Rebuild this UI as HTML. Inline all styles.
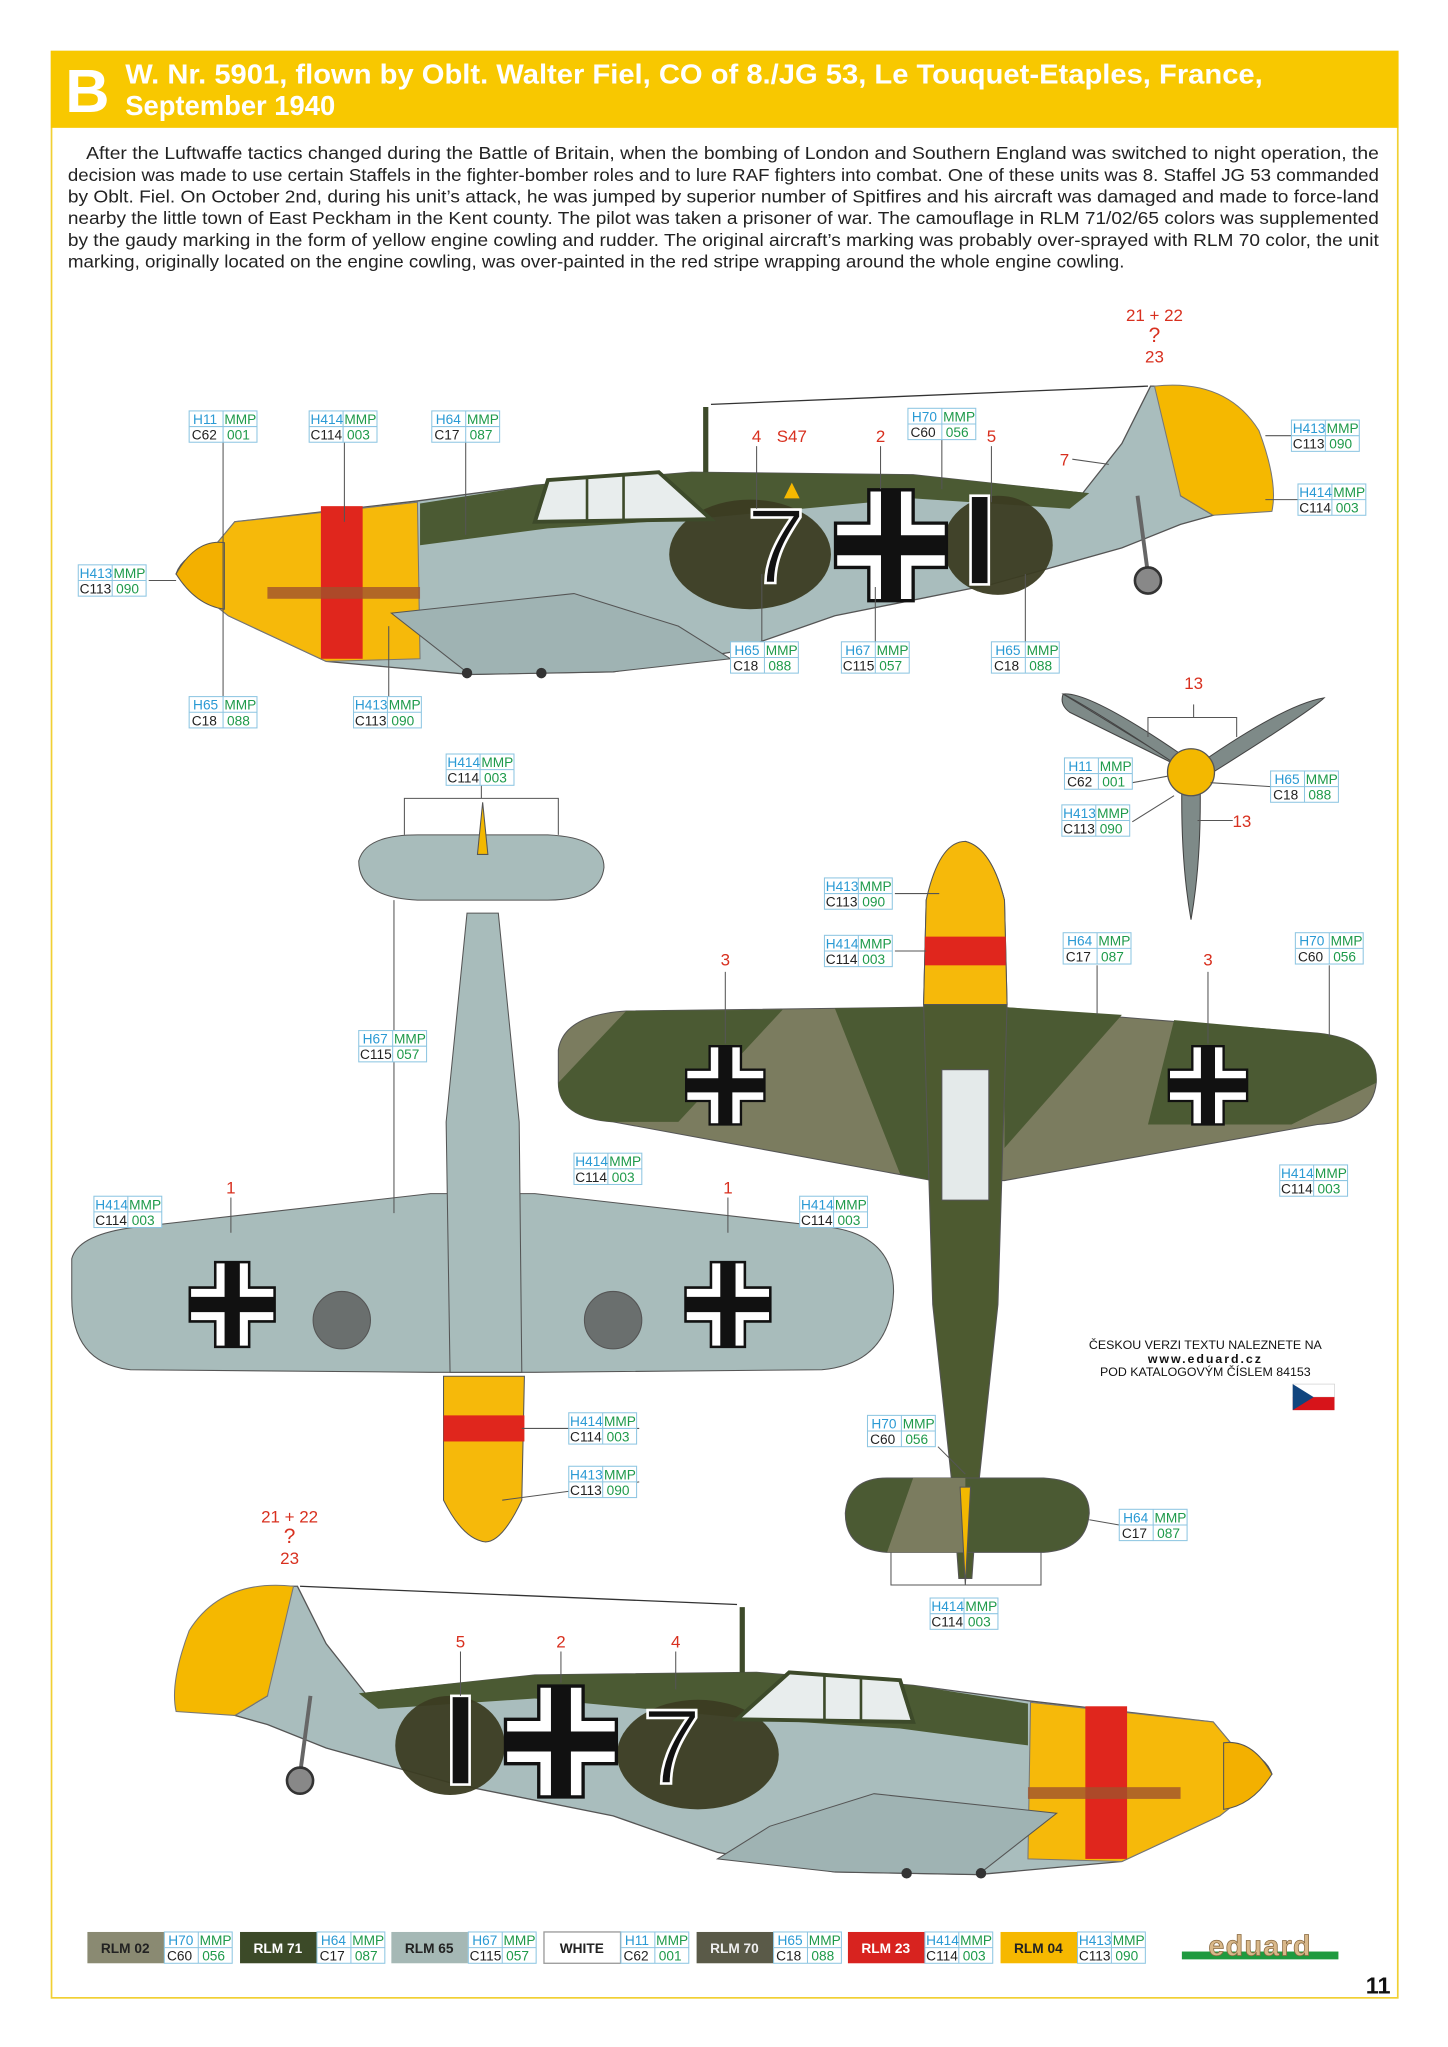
<!DOCTYPE html>
<html><head><meta charset="utf-8"><style>
html,body{margin:0;padding:0;background:#fff;}
svg{display:block;font-family:"Liberation Sans",sans-serif;}
.lb rect{fill:#fff;stroke:#8ec6e2;stroke-width:.8}
.lb line{stroke:#8ec6e2;stroke-width:.8}
.lb text{font-size:10.5px}
.h{fill:#2a9ad4}.m{fill:#1e9a4a}.c{fill:#222}
.rn{fill:#d8301f;font-size:13px;text-anchor:middle}
.ld{stroke:#555;stroke-width:.8;fill:none}
</style></head><body>
<svg width="1448" height="2047" viewBox="0 0 1448 2047" xmlns="http://www.w3.org/2000/svg">
<defs>
<g id="bk">
 <rect x="-50" y="-50" width="100" height="100" fill="none"/>
 <path d="M-20,-50h40v30h30v40h-30v30h-40v-30h-30v-40h30z" fill="#fff" stroke="#111" stroke-width="3"/>
 <path d="M-9,-50h18v41h41v18h-41v41h-18v-41h-41v-18h41z" fill="#111"/>
</g>
<g id="side">
 <path d="M135,440 Q140,425 165,418 L180,400 L320,384 L410,372 L530,362 L700,364 L830,378 L860,340 L882,296 L900,296 L905,380 L930,395 L905,402 L860,420 L760,448 L640,472 L560,500 L470,515 L360,517 L250,507 L175,472 L160,460 Z" fill="#a9bdbd" stroke="#555" stroke-width="1"/>
 <path d="M322,386 L410,372 L530,362 L700,364 L835,378 L820,390 L700,382 L530,398 L420,405 L322,418 Z" fill="#4b5a33"/>
 <path d="M885,296 Q940,290 965,330 Q980,370 975,392 L930,395 L905,380 Z" fill="#f5b800" stroke="#777" stroke-width=".8"/>
 <path d="M165,418 L180,400 L320,385 L322,505 L250,507 L175,472 L160,460 Z" fill="#f6b90a" stroke="#777" stroke-width=".8"/>
 <path d="M135,440 Q150,413 172,416 L172,467 Q150,464 135,440 Z" fill="#f3b000" stroke="#555" stroke-width=".8"/>
 <rect x="246" y="388" width="32" height="117" fill="#e0261d"/>
 <rect x="205" y="450" width="117" height="9" fill="#a0522d" opacity=".8"/>
 <path d="M300,470 L440,455 L520,480 L560,505 L470,515 L360,517 Z" fill="#9fb3b3" stroke="#555" stroke-width=".8"/>
 <ellipse cx="575" cy="425" rx="62" ry="42" fill="#3b3c22" opacity=".95"/>
 <ellipse cx="765" cy="418" rx="42" ry="38" fill="#3b3c22" opacity=".95"/>
 <path d="M410,400 L420,368 L505,362 L545,398 Z" fill="#e8eded" stroke="#3d4a2a" stroke-width="3"/>
 <line x1="450" y1="365" x2="450" y2="400" stroke="#3d4a2a" stroke-width="2"/>
 <line x1="478" y1="363" x2="478" y2="400" stroke="#3d4a2a" stroke-width="2"/>
 <line x1="541" y1="312" x2="541" y2="362" stroke="#3d4a2a" stroke-width="4"/>
 <line x1="545" y1="310" x2="880" y2="296" stroke="#333" stroke-width="1"/>
 <line x1="872" y1="380" x2="880" y2="440" stroke="#666" stroke-width="3"/>
 <circle cx="880" cy="445" r="10" fill="#888" stroke="#333" stroke-width="2"/>
 <circle cx="358" cy="516" r="4" fill="#333"/><circle cx="415" cy="516" r="4" fill="#333"/>
</g>
</defs>
<rect width="1448" height="2047" fill="#fff"/>
<g transform="scale(1.3045)">
 <rect x="39.5" y="39.5" width="1032" height="1492" fill="none" stroke="#f1d033" stroke-width="1.3"/>
 <rect x="39" y="39" width="1033" height="59" fill="#f8c800"/>
 <text x="50" y="86" font-size="47" font-weight="bold" fill="#fff">B</text>
 <text x="96" y="64" font-size="21" font-weight="bold" fill="#fff" textLength="872" lengthAdjust="spacingAndGlyphs">W. Nr. 5901, flown by Oblt. Walter Fiel, CO of 8./JG 53, Le Touquet-Etaples, France,</text>
 <text x="96" y="88" font-size="21" font-weight="bold" fill="#fff">September 1940</text>
 <g font-size="13.5" fill="#222" lengthAdjust="spacingAndGlyphs">
  <text x="66" y="122" textLength="991" lengthAdjust="spacingAndGlyphs">After the Luftwaffe tactics changed during the Battle of Britain, when the bombing of London and Southern England was switched to night operation, the</text>
  <text x="52" y="138.6" textLength="1005" lengthAdjust="spacingAndGlyphs">decision was made to use certain Staffels in the fighter-bomber roles and to lure RAF fighters into combat. One of these units was 8. Staffel JG 53 commanded</text>
  <text x="52" y="155.2" textLength="1005" lengthAdjust="spacingAndGlyphs">by Oblt. Fiel. On October 2nd, during his unit’s attack, he was jumped by superior number of Spitfires and his aircraft was damaged and made to force-land</text>
  <text x="52" y="171.8" textLength="1005" lengthAdjust="spacingAndGlyphs">nearby the little town of East Peckham in the Kent county. The pilot was taken a prisoner of war. The camouflage in RLM 71/02/65 colors was supplemented</text>
  <text x="52" y="188.4" textLength="1005" lengthAdjust="spacingAndGlyphs">by the gaudy marking in the form of yellow engine cowling and rudder. The original aircraft’s marking was probably over-sprayed with RLM 70 color, the unit</text>
  <text x="52" y="205" textLength="810" lengthAdjust="spacingAndGlyphs">marking, originally located on the engine cowling, was over-painted in the red stripe wrapping around the whole engine cowling.</text>
 </g>

 <!-- top side view -->
 <use href="#side"/>
 <text x="595" y="447" font-size="82" text-anchor="middle" fill="#111" stroke="#fff" stroke-width="2">7</text>
 <use href="#bk" transform="translate(683,418) scale(.85)"/>
 <rect x="744" y="380" width="14" height="68" fill="#111" stroke="#fff" stroke-width="2"/>
 <path d="M607,370 L613,382 L601,382 Z" fill="#f5b800"/>

 <!-- bottom side view -->
 <use href="#side" transform="translate(1110,920) scale(-1,1)"/>
 <text x="515" y="1367" font-size="82" text-anchor="middle" fill="#111" stroke="#fff" stroke-width="2">7</text>
 <use href="#bk" transform="translate(430,1335) scale(.85)"/>
 <rect x="346" y="1300" width="14" height="68" fill="#111" stroke="#fff" stroke-width="2"/>

 <!-- propeller -->
 <g fill="#7e8a88" stroke="#444" stroke-width=".8">
  <path d="M913,592 L815,532 Q812,540 820,546 Z"/>
  <path d="M900,585 Q840,545 815,532 Q835,530 905,578 Z"/>
  <path d="M920,585 Q985,540 1015,535 Q1005,545 925,595 Z"/>
  <path d="M906,600 Q905,660 913,705 Q921,660 920,600 Z"/>
 </g>
 <circle cx="913" cy="592" r="18" fill="#f3b800" stroke="#555"/>

 <!-- underside plan view -->
 <g stroke="#555" stroke-width=".8">
  <path d="M55,965 Q60,945 110,940 L330,915 L410,915 L630,940 Q685,945 685,990 Q683,1045 630,1050 L410,1052 L330,1052 L100,1050 Q55,1045 55,995 Z" fill="#a8bcbb"/>
  <path d="M345,1052 L342,860 L358,700 L382,700 L398,860 L400,1052 Z" fill="#a8bcbb"/>
  <path d="M275,660 Q280,640 320,640 L420,640 Q463,642 463,665 Q460,690 420,690 L320,690 Q275,688 275,660 Z" fill="#a8bcbb"/>
  <path d="M340,1055 L402,1055 L400,1150 Q385,1182 372,1182 Q355,1180 340,1150 Z" fill="#f6b90a"/>
  <rect x="340" y="1085" width="62" height="20" fill="#e0261d" stroke="none"/>
  <circle cx="262" cy="1012" r="22" fill="#6a6f6e"/><circle cx="470" cy="1012" r="22" fill="#6a6f6e"/>
  <path d="M370,615 L374,655 L366,655 Z" fill="#f3b800"/>
 </g>
 <use href="#bk" transform="translate(178,1000) scale(.65)"/>
 <use href="#bk" transform="translate(558,1000) scale(.65)"/>

 <!-- top plan view -->
 <g stroke="#555" stroke-width=".8">
  <path d="M428,805 Q432,778 480,775 L715,772 L765,772 L1010,792 Q1057,797 1055,830 Q1052,860 1010,862 L770,905 L715,905 L470,860 Q428,857 428,830 Z" fill="#7b7c5f"/>
  <path d="M480,775 L600,774 L520,860 L470,860 Q428,857 428,830 Z" fill="#4b5a33" stroke="none"/>
  <path d="M640,773 L715,772 L715,905 L690,900 Z" fill="#4b5a33" stroke="none"/>
  <path d="M770,772 L860,778 L770,880 Z" fill="#4b5a33" stroke="none"/>
  <path d="M900,782 L1010,792 Q1057,797 1055,830 L990,862 L880,862 Z" fill="#4b5a33" stroke="none"/>
  <path d="M740,645 Q760,650 770,690 L772,770 L765,1000 L750,1140 L745,1210 L735,1210 L730,1140 L715,1000 L708,770 L710,690 Q720,650 740,645 Z" fill="#4d5a30"/>
  <path d="M710,690 Q720,645 740,645 Q760,650 770,690 L772,770 L708,770 Z" fill="#f6b90a"/>
  <rect x="709" y="718" width="62" height="22" fill="#e0261d" stroke="none"/>
  <rect x="722" y="820" width="36" height="100" fill="#e4eaea"/>
  <path d="M648,1160 Q650,1133 680,1133 L800,1133 Q835,1135 835,1160 Q833,1188 800,1190 L680,1190 Q648,1188 648,1160 Z" fill="#4b5a33"/>
  <path d="M700,1133 L740,1133 L740,1190 L680,1190 Z" fill="#7b7c5f" stroke="none"/>
  <path d="M736,1140 L744,1140 L740,1215 Z" fill="#f3b800"/>
 </g>
 <use href="#bk" transform="translate(556,832) scale(.6)"/>
 <use href="#bk" transform="translate(926,832) scale(.6)"/>

 <!-- leader lines -->
 <g class="ld">
  <line x1="171" y1="339" x2="171" y2="534"/><line x1="264" y1="339" x2="264" y2="400"/><line x1="357" y1="339" x2="357" y2="410"/>
  <line x1="722" y1="337" x2="722" y2="375"/><line x1="298" y1="480" x2="298" y2="534"/>
  <line x1="584" y1="440" x2="584" y2="492"/><line x1="671" y1="450" x2="671" y2="492"/><line x1="786" y1="440" x2="786" y2="492"/>
  <line x1="970" y1="334" x2="990" y2="334"/><line x1="970" y1="383" x2="995" y2="383"/><line x1="114" y1="445" x2="135" y2="445"/>
  <polyline points="310,640 310,612 428,612 428,640"/><line x1="369" y1="602" x2="369" y2="612"/>
  <line x1="302" y1="690" x2="302" y2="930"/>
  <polyline points="880,565 880,550 948,550 948,565"/><line x1="915" y1="540" x2="915" y2="550"/>
  <line x1="868" y1="600" x2="895" y2="595"/><line x1="868" y1="630" x2="900" y2="610"/><line x1="928" y1="600" x2="974" y2="603"/><line x1="918" y1="629" x2="945" y2="629"/>
  <line x1="686" y1="685" x2="720" y2="685"/><line x1="686" y1="729" x2="710" y2="729"/>
  <line x1="841" y1="740" x2="841" y2="778"/><line x1="1019" y1="740" x2="1019" y2="795"/>
  <line x1="556" y1="745" x2="556" y2="800"/><line x1="926" y1="745" x2="926" y2="800"/>
  <line x1="177" y1="918" x2="177" y2="945"/><line x1="558" y1="918" x2="558" y2="945"/>
  <line x1="490" y1="1095" x2="400" y2="1095"/><line x1="490" y1="1136" x2="385" y2="1150"/>
  <line x1="719" y1="1109" x2="740" y2="1130"/><line x1="858" y1="1169" x2="835" y2="1165"/>
  <polyline points="683,1190 683,1215 798,1215 798,1190"/>
  <line x1="353" y1="1266" x2="353" y2="1300"/><line x1="430" y1="1266" x2="430" y2="1290"/><line x1="518" y1="1266" x2="518" y2="1295"/>
  <line x1="580" y1="342" x2="580" y2="390"/><line x1="675" y1="342" x2="675" y2="375"/><line x1="760" y1="342" x2="760" y2="385"/><line x1="822" y1="352" x2="850" y2="356"/>
 </g>

 <!-- red numbers -->
 <g class="rn">
  <text x="885" y="246">21 + 22</text><text x="885" y="262" font-size="16">?</text><text x="885" y="278">23</text>
  <text x="580" y="339">4</text><text x="607" y="339">S47</text><text x="675" y="339">2</text><text x="760" y="339">5</text><text x="816" y="357">7</text>
  <text x="915" y="528">13</text><text x="952" y="634">13</text>
  <text x="556" y="740">3</text><text x="926" y="740">3</text>
  <text x="177" y="915">1</text><text x="558" y="915">1</text>
  <text x="222" y="1167">21 + 22</text><text x="222" y="1183" font-size="16">?</text><text x="222" y="1199">23</text>
  <text x="353" y="1263">5</text><text x="430" y="1263">2</text><text x="518" y="1263">4</text>
 </g>

 <!-- labels -->
 <g class="lb">
  <g transform="translate(145,315)"><rect width="52" height="24"/><line x1="26" y1="0" x2="26" y2="24"/><line x1="0" y1="12" x2="52" y2="12"/><text class="h" x="3" y="10">H11</text><text class="m" x="27" y="10">MMP</text><text class="c" x="2" y="22">C62</text><text class="m" x="29" y="22">001</text></g>
  <g transform="translate(237,315)"><rect width="52" height="24"/><line x1="26" y1="0" x2="26" y2="24"/><line x1="0" y1="12" x2="52" y2="12"/><text class="h" x="1" y="10">H414</text><text class="m" x="27" y="10">MMP</text><text class="c" x="1" y="22">C114</text><text class="m" x="29" y="22">003</text></g>
  <g transform="translate(331,315)"><rect width="52" height="24"/><line x1="26" y1="0" x2="26" y2="24"/><line x1="0" y1="12" x2="52" y2="12"/><text class="h" x="3" y="10">H64</text><text class="m" x="27" y="10">MMP</text><text class="c" x="2" y="22">C17</text><text class="m" x="29" y="22">087</text></g>
  <g transform="translate(696,313)"><rect width="52" height="24"/><line x1="26" y1="0" x2="26" y2="24"/><line x1="0" y1="12" x2="52" y2="12"/><text class="h" x="3" y="10">H70</text><text class="m" x="27" y="10">MMP</text><text class="c" x="2" y="22">C60</text><text class="m" x="29" y="22">056</text></g>
  <g transform="translate(990,322)"><rect width="52" height="24"/><line x1="26" y1="0" x2="26" y2="24"/><line x1="0" y1="12" x2="52" y2="12"/><text class="h" x="1" y="10">H413</text><text class="m" x="27" y="10">MMP</text><text class="c" x="1" y="22">C113</text><text class="m" x="29" y="22">090</text></g>
  <g transform="translate(995,371)"><rect width="52" height="24"/><line x1="26" y1="0" x2="26" y2="24"/><line x1="0" y1="12" x2="52" y2="12"/><text class="h" x="1" y="10">H414</text><text class="m" x="27" y="10">MMP</text><text class="c" x="1" y="22">C114</text><text class="m" x="29" y="22">003</text></g>
  <g transform="translate(60,433)"><rect width="52" height="24"/><line x1="26" y1="0" x2="26" y2="24"/><line x1="0" y1="12" x2="52" y2="12"/><text class="h" x="1" y="10">H413</text><text class="m" x="27" y="10">MMP</text><text class="c" x="1" y="22">C113</text><text class="m" x="29" y="22">090</text></g>
  <g transform="translate(560,492)"><rect width="52" height="24"/><line x1="26" y1="0" x2="26" y2="24"/><line x1="0" y1="12" x2="52" y2="12"/><text class="h" x="3" y="10">H65</text><text class="m" x="27" y="10">MMP</text><text class="c" x="2" y="22">C18</text><text class="m" x="29" y="22">088</text></g>
  <g transform="translate(645,492)"><rect width="52" height="24"/><line x1="26" y1="0" x2="26" y2="24"/><line x1="0" y1="12" x2="52" y2="12"/><text class="h" x="3" y="10">H67</text><text class="m" x="27" y="10">MMP</text><text class="c" x="1" y="22">C115</text><text class="m" x="29" y="22">057</text></g>
  <g transform="translate(760,492)"><rect width="52" height="24"/><line x1="26" y1="0" x2="26" y2="24"/><line x1="0" y1="12" x2="52" y2="12"/><text class="h" x="3" y="10">H65</text><text class="m" x="27" y="10">MMP</text><text class="c" x="2" y="22">C18</text><text class="m" x="29" y="22">088</text></g>
  <g transform="translate(145,534)"><rect width="52" height="24"/><line x1="26" y1="0" x2="26" y2="24"/><line x1="0" y1="12" x2="52" y2="12"/><text class="h" x="3" y="10">H65</text><text class="m" x="27" y="10">MMP</text><text class="c" x="2" y="22">C18</text><text class="m" x="29" y="22">088</text></g>
  <g transform="translate(271,534)"><rect width="52" height="24"/><line x1="26" y1="0" x2="26" y2="24"/><line x1="0" y1="12" x2="52" y2="12"/><text class="h" x="1" y="10">H413</text><text class="m" x="27" y="10">MMP</text><text class="c" x="1" y="22">C113</text><text class="m" x="29" y="22">090</text></g>
  <g transform="translate(342,578)"><rect width="52" height="24"/><line x1="26" y1="0" x2="26" y2="24"/><line x1="0" y1="12" x2="52" y2="12"/><text class="h" x="1" y="10">H414</text><text class="m" x="27" y="10">MMP</text><text class="c" x="1" y="22">C114</text><text class="m" x="29" y="22">003</text></g>
  <g transform="translate(816,581)"><rect width="52" height="24"/><line x1="26" y1="0" x2="26" y2="24"/><line x1="0" y1="12" x2="52" y2="12"/><text class="h" x="3" y="10">H11</text><text class="m" x="27" y="10">MMP</text><text class="c" x="2" y="22">C62</text><text class="m" x="29" y="22">001</text></g>
  <g transform="translate(974,591)"><rect width="52" height="24"/><line x1="26" y1="0" x2="26" y2="24"/><line x1="0" y1="12" x2="52" y2="12"/><text class="h" x="3" y="10">H65</text><text class="m" x="27" y="10">MMP</text><text class="c" x="2" y="22">C18</text><text class="m" x="29" y="22">088</text></g>
  <g transform="translate(814,617)"><rect width="52" height="24"/><line x1="26" y1="0" x2="26" y2="24"/><line x1="0" y1="12" x2="52" y2="12"/><text class="h" x="1" y="10">H413</text><text class="m" x="27" y="10">MMP</text><text class="c" x="1" y="22">C113</text><text class="m" x="29" y="22">090</text></g>
  <g transform="translate(632,673)"><rect width="52" height="24"/><line x1="26" y1="0" x2="26" y2="24"/><line x1="0" y1="12" x2="52" y2="12"/><text class="h" x="1" y="10">H413</text><text class="m" x="27" y="10">MMP</text><text class="c" x="1" y="22">C113</text><text class="m" x="29" y="22">090</text></g>
  <g transform="translate(632,717)"><rect width="52" height="24"/><line x1="26" y1="0" x2="26" y2="24"/><line x1="0" y1="12" x2="52" y2="12"/><text class="h" x="1" y="10">H414</text><text class="m" x="27" y="10">MMP</text><text class="c" x="1" y="22">C114</text><text class="m" x="29" y="22">003</text></g>
  <g transform="translate(815,715)"><rect width="52" height="24"/><line x1="26" y1="0" x2="26" y2="24"/><line x1="0" y1="12" x2="52" y2="12"/><text class="h" x="3" y="10">H64</text><text class="m" x="27" y="10">MMP</text><text class="c" x="2" y="22">C17</text><text class="m" x="29" y="22">087</text></g>
  <g transform="translate(993,715)"><rect width="52" height="24"/><line x1="26" y1="0" x2="26" y2="24"/><line x1="0" y1="12" x2="52" y2="12"/><text class="h" x="3" y="10">H70</text><text class="m" x="27" y="10">MMP</text><text class="c" x="2" y="22">C60</text><text class="m" x="29" y="22">056</text></g>
  <g transform="translate(275,790)"><rect width="52" height="24"/><line x1="26" y1="0" x2="26" y2="24"/><line x1="0" y1="12" x2="52" y2="12"/><text class="h" x="3" y="10">H67</text><text class="m" x="27" y="10">MMP</text><text class="c" x="1" y="22">C115</text><text class="m" x="29" y="22">057</text></g>
  <g transform="translate(440,884)"><rect width="52" height="24"/><line x1="26" y1="0" x2="26" y2="24"/><line x1="0" y1="12" x2="52" y2="12"/><text class="h" x="1" y="10">H414</text><text class="m" x="27" y="10">MMP</text><text class="c" x="1" y="22">C114</text><text class="m" x="29" y="22">003</text></g>
  <g transform="translate(981,893)"><rect width="52" height="24"/><line x1="26" y1="0" x2="26" y2="24"/><line x1="0" y1="12" x2="52" y2="12"/><text class="h" x="1" y="10">H414</text><text class="m" x="27" y="10">MMP</text><text class="c" x="1" y="22">C114</text><text class="m" x="29" y="22">003</text></g>
  <g transform="translate(72,917)"><rect width="52" height="24"/><line x1="26" y1="0" x2="26" y2="24"/><line x1="0" y1="12" x2="52" y2="12"/><text class="h" x="1" y="10">H414</text><text class="m" x="27" y="10">MMP</text><text class="c" x="1" y="22">C114</text><text class="m" x="29" y="22">003</text></g>
  <g transform="translate(613,917)"><rect width="52" height="24"/><line x1="26" y1="0" x2="26" y2="24"/><line x1="0" y1="12" x2="52" y2="12"/><text class="h" x="1" y="10">H414</text><text class="m" x="27" y="10">MMP</text><text class="c" x="1" y="22">C114</text><text class="m" x="29" y="22">003</text></g>
  <g transform="translate(436,1083)"><rect width="52" height="24"/><line x1="26" y1="0" x2="26" y2="24"/><line x1="0" y1="12" x2="52" y2="12"/><text class="h" x="1" y="10">H414</text><text class="m" x="27" y="10">MMP</text><text class="c" x="1" y="22">C114</text><text class="m" x="29" y="22">003</text></g>
  <g transform="translate(436,1124)"><rect width="52" height="24"/><line x1="26" y1="0" x2="26" y2="24"/><line x1="0" y1="12" x2="52" y2="12"/><text class="h" x="1" y="10">H413</text><text class="m" x="27" y="10">MMP</text><text class="c" x="1" y="22">C113</text><text class="m" x="29" y="22">090</text></g>
  <g transform="translate(665,1085)"><rect width="52" height="24"/><line x1="26" y1="0" x2="26" y2="24"/><line x1="0" y1="12" x2="52" y2="12"/><text class="h" x="3" y="10">H70</text><text class="m" x="27" y="10">MMP</text><text class="c" x="2" y="22">C60</text><text class="m" x="29" y="22">056</text></g>
  <g transform="translate(858,1157)"><rect width="52" height="24"/><line x1="26" y1="0" x2="26" y2="24"/><line x1="0" y1="12" x2="52" y2="12"/><text class="h" x="3" y="10">H64</text><text class="m" x="27" y="10">MMP</text><text class="c" x="2" y="22">C17</text><text class="m" x="29" y="22">087</text></g>
  <g transform="translate(713,1225)"><rect width="52" height="24"/><line x1="26" y1="0" x2="26" y2="24"/><line x1="0" y1="12" x2="52" y2="12"/><text class="h" x="1" y="10">H414</text><text class="m" x="27" y="10">MMP</text><text class="c" x="1" y="22">C114</text><text class="m" x="29" y="22">003</text></g>
 </g>

 <!-- czech note -->
 <g font-size="9.5" text-anchor="middle" fill="#111">
  <text x="924" y="1034">ČESKOU VERZI TEXTU NALEZNETE NA</text>
  <text x="924" y="1045" font-weight="bold" letter-spacing="1.5">www.eduard.cz</text>
  <text x="924" y="1055">POD KATALOGOVÝM ČÍSLEM 84153</text>
 </g>
 <rect x="991" y="1061" width="32" height="10" fill="#fff" stroke="#ccc" stroke-width=".5"/>
 <rect x="991" y="1071" width="32" height="10" fill="#d7141a"/>
 <path d="M991,1061 L1007,1071 L991,1081 Z" fill="#11457e"/>

 <!-- legend -->
 <g font-size="10.5">
  <g transform="translate(67,1481)"><rect width="58.7" height="24" fill="#8a8a72"/><text x="29" y="16" text-anchor="middle" font-weight="bold" fill="#222">RLM 02</text></g>
  <g transform="translate(184,1481)"><rect width="58.7" height="24" fill="#3c4a28"/><text x="29" y="16" text-anchor="middle" font-weight="bold" fill="#fff">RLM 71</text></g>
  <g transform="translate(300,1481)"><rect width="58.7" height="24" fill="#a5b8b5"/><text x="29" y="16" text-anchor="middle" font-weight="bold" fill="#222">RLM 65</text></g>
  <g transform="translate(417,1481)"><rect width="58.7" height="24" fill="#fff" stroke="#999"/><text x="29" y="16" text-anchor="middle" font-weight="bold" fill="#222">WHITE</text></g>
  <g transform="translate(534,1481)"><rect width="58.7" height="24" fill="#5a5a48"/><text x="29" y="16" text-anchor="middle" font-weight="bold" fill="#eee">RLM 70</text></g>
  <g transform="translate(650,1481)"><rect width="58.7" height="24" fill="#d8231f"/><text x="29" y="16" text-anchor="middle" font-weight="bold" fill="#fff">RLM 23</text></g>
  <g transform="translate(767,1481)"><rect width="58.7" height="24" fill="#f6b800"/><text x="29" y="16" text-anchor="middle" font-weight="bold" fill="#222">RLM 04</text></g>
 </g>
 <g class="lb">
  <g transform="translate(126,1481)"><rect width="52" height="24"/><line x1="26" y1="0" x2="26" y2="24"/><line x1="0" y1="12" x2="52" y2="12"/><text class="h" x="3" y="10">H70</text><text class="m" x="27" y="10">MMP</text><text class="c" x="2" y="22">C60</text><text class="m" x="29" y="22">056</text></g>
  <g transform="translate(243,1481)"><rect width="52" height="24"/><line x1="26" y1="0" x2="26" y2="24"/><line x1="0" y1="12" x2="52" y2="12"/><text class="h" x="3" y="10">H64</text><text class="m" x="27" y="10">MMP</text><text class="c" x="2" y="22">C17</text><text class="m" x="29" y="22">087</text></g>
  <g transform="translate(359,1481)"><rect width="52" height="24"/><line x1="26" y1="0" x2="26" y2="24"/><line x1="0" y1="12" x2="52" y2="12"/><text class="h" x="3" y="10">H67</text><text class="m" x="27" y="10">MMP</text><text class="c" x="1" y="22">C115</text><text class="m" x="29" y="22">057</text></g>
  <g transform="translate(476,1481)"><rect width="52" height="24"/><line x1="26" y1="0" x2="26" y2="24"/><line x1="0" y1="12" x2="52" y2="12"/><text class="h" x="3" y="10">H11</text><text class="m" x="27" y="10">MMP</text><text class="c" x="2" y="22">C62</text><text class="m" x="29" y="22">001</text></g>
  <g transform="translate(593,1481)"><rect width="52" height="24"/><line x1="26" y1="0" x2="26" y2="24"/><line x1="0" y1="12" x2="52" y2="12"/><text class="h" x="3" y="10">H65</text><text class="m" x="27" y="10">MMP</text><text class="c" x="2" y="22">C18</text><text class="m" x="29" y="22">088</text></g>
  <g transform="translate(709,1481)"><rect width="52" height="24"/><line x1="26" y1="0" x2="26" y2="24"/><line x1="0" y1="12" x2="52" y2="12"/><text class="h" x="1" y="10">H414</text><text class="m" x="27" y="10">MMP</text><text class="c" x="1" y="22">C114</text><text class="m" x="29" y="22">003</text></g>
  <g transform="translate(826,1481)"><rect width="52" height="24"/><line x1="26" y1="0" x2="26" y2="24"/><line x1="0" y1="12" x2="52" y2="12"/><text class="h" x="1" y="10">H413</text><text class="m" x="27" y="10">MMP</text><text class="c" x="1" y="22">C113</text><text class="m" x="29" y="22">090</text></g>
 </g>
 <rect x="906" y="1496" width="120" height="6" fill="#1f9a3f"/>
 <text x="966" y="1499" font-size="22" font-weight="bold" text-anchor="middle" fill="#d9b88a" stroke="#8a6a40" stroke-width=".6" letter-spacing="1">eduard</text>
 <text x="1066" y="1528" font-size="18" font-weight="bold" text-anchor="end" fill="#111">11</text>
</g>
</svg>
</body></html>
